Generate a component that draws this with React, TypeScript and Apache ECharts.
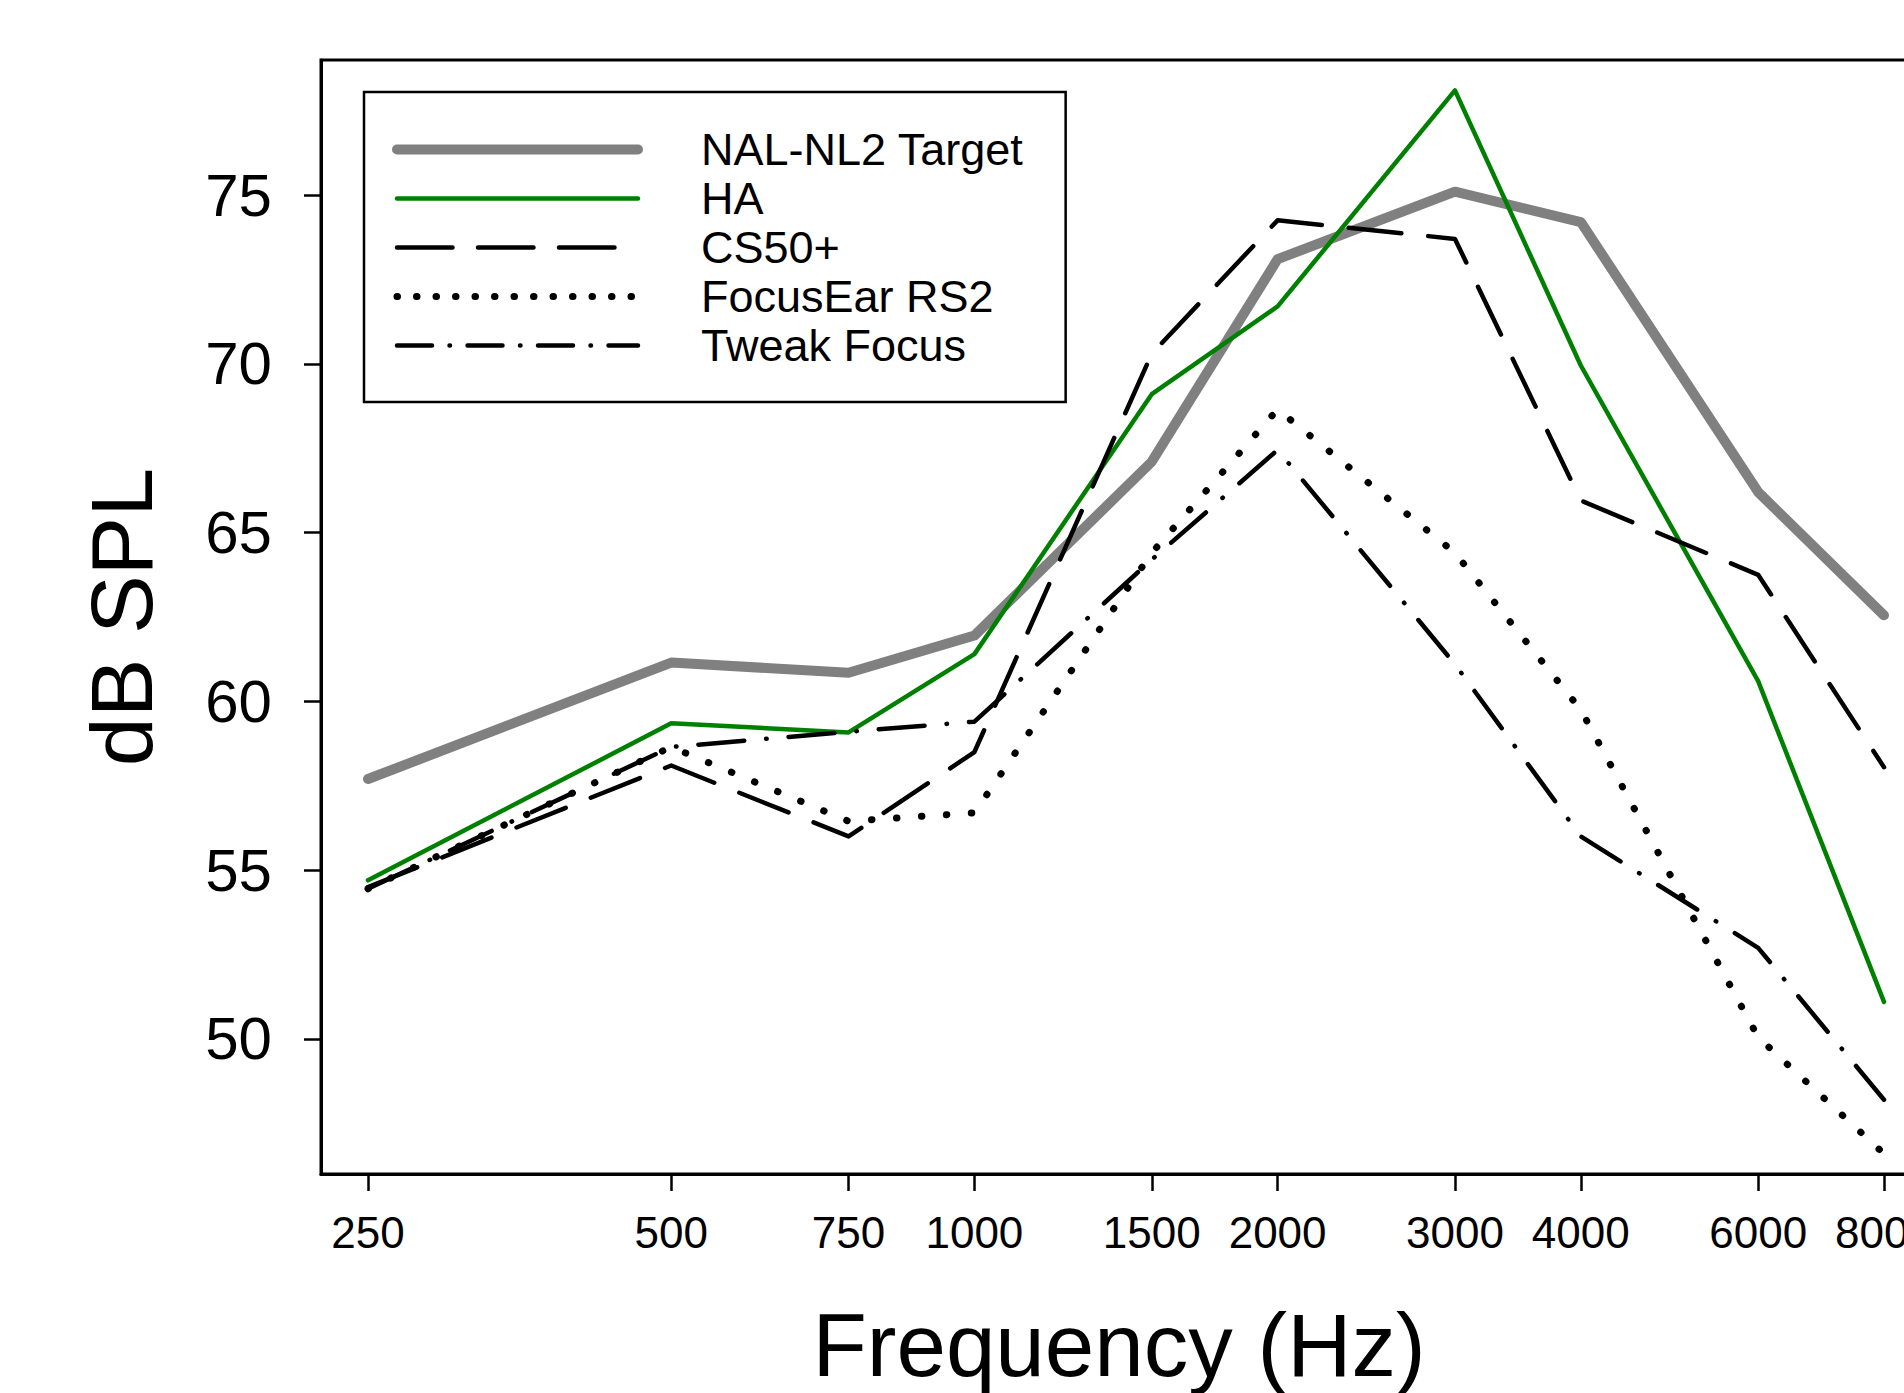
import React, { useEffect, useRef } from "react";
import * as echarts from "echarts";

const frequencies = [250, 500, 750, 1000, 1500, 2000, 3000, 4000, 6000, 8000];
const nalTarget = [57.7, 61.15, 60.85, 61.95, 67.1, 73.1, 75.1, 74.2, 66.2, 62.55];
const haValues = [54.7, 59.35, 59.08, 61.4, 69.1, 71.7, 78.1, 69.95, 60.6, 51.1];
const cs50Values = [54.5, 58.1, 56.0, 58.5, 70.3, 74.25, 73.7, 65.95, 63.75, 58.05];
const focusEarValues = [54.45, 58.65, 56.45, 56.7, 64.4, 68.65, 64.4, 59.75, 50.05, 46.6];
const tweakFocusValues = [54.45, 58.65, 59.1, 59.4, 64.2, 67.45, 61.1, 56.0, 52.7, 48.2];
const yTicks = [50, 55, 60, 65, 70, 75];
const seriesNames = ["NAL-NL2 Target", "HA", "CS50+", "FocusEar RS2", "Tweak Focus"];

const FONT = "'Liberation Sans', Arial, Helvetica, sans-serif";

export default function App() {
  const ref = useRef<HTMLDivElement>(null);

  useEffect(() => {
    if (!ref.current) return;
    const chart = echarts.init(ref.current, null, { renderer: "svg" });
    const toPts = (vals: number[]) => frequencies.map((f, i) => [Math.log2(f), vals[i]]);
    const pad = 0.155;
    const xMin = Math.log2(frequencies[0]) - pad;
    const xMax = Math.log2(frequencies[frequencies.length - 1]) + pad;
    const xTickVals = frequencies.map((f) => Math.log2(f));

    const mk = (name: string, vals: number[], color: string, width: number, type: any) => ({
      name,
      type: "line",
      data: toPts(vals),
      symbol: "none",
      silent: true,
      lineStyle: { color, width, type, cap: "round", join: "round" },
      itemStyle: { color },
      emphasis: { disabled: true },
    });

    chart.setOption({
      animation: false,
      backgroundColor: "#ffffff",
      textStyle: { fontFamily: FONT },
      grid: {
        show: true,
        left: 321,
        top: 60,
        right: -27,
        bottom: 219,
        borderColor: "#000",
        borderWidth: 3,
        backgroundColor: "rgba(0,0,0,0)",
        containLabel: false,
        outerBoundsMode: "none",
      },
      legend: {
        orient: "vertical",
        left: 364,
        top: 92,
        padding: [35, 42, 34, 28],
        itemWidth: 241,
        itemHeight: 44,
        itemGap: 4,
        borderColor: "#000",
        borderWidth: 2.5,
        backgroundColor: "#fff",
        selectedMode: false,
        itemStyle: { color: "rgba(0,0,0,0)", borderWidth: 0 },
        lineStyle: { width: "inherit" },
        textStyle: {
          fontSize: 45,
          fontFamily: FONT,
          color: "#000",
          lineHeight: 44,
          padding: [0, 0, 0, 58],
        },
        data: [
          { name: seriesNames[0] },
          { name: seriesNames[1] },
          { name: seriesNames[2], lineStyle: { type: [55.5, 25.5] } },
          { name: seriesNames[3], lineStyle: { type: [0.5, 19] } },
          { name: seriesNames[4], lineStyle: { type: [35, 17.5, 0.5, 17.5] } },
        ],
      },
      xAxis: {
        type: "value",
        min: xMin,
        max: xMax,
        name: "Frequency (Hz)",
        nameLocation: "middle",
        nameGap: 126,
        nameMoveOverlap: false,
        nameTextStyle: { fontSize: 89, fontFamily: FONT, color: "#000", padding: [0, 14, 0, 0] },
        axisLine: { show: true, lineStyle: { color: "#000", width: 3 } },
        axisTick: {
          show: true,
          inside: false,
          length: 17,
          lineStyle: { color: "#000", width: 2.5 },
          customValues: xTickVals,
        },
        axisLabel: {
          show: true,
          margin: 36,
          fontSize: 44,
          fontFamily: FONT,
          color: "#000",
          customValues: xTickVals,
          formatter: (v: number) => String(Math.round(Math.pow(2, v))),
        },
        splitLine: { show: false },
      },
      yAxis: {
        type: "value",
        min: 46,
        max: 79,
        name: "dB SPL",
        nameLocation: "middle",
        nameGap: 156,
        nameRotate: 90,
        nameMoveOverlap: false,
        nameTextStyle: { fontSize: 88, fontFamily: FONT, color: "#000" },
        axisLine: { show: true, lineStyle: { color: "#000", width: 3 } },
        axisTick: {
          show: true,
          inside: false,
          length: 17,
          lineStyle: { color: "#000", width: 2.5 },
          customValues: yTicks,
        },
        axisLabel: {
          show: true,
          margin: 49,
          fontSize: 60,
          fontFamily: FONT,
          color: "#000",
          customValues: yTicks,
        },
        splitLine: { show: false },
      },
      series: [
        mk(seriesNames[0], nalTarget, "#808080", 10, "solid"),
        mk(seriesNames[1], haValues, "#008000", 4.5, "solid"),
        mk(seriesNames[2], cs50Values, "#000000", 4.5, [53, 27]),
        mk(seriesNames[3], focusEarValues, "#000000", 7, [0.5, 24.5]),
        mk(seriesNames[4], tweakFocusValues, "#000000", 4.5, [46, 22, 0.5, 22]),
      ],
    });

    return () => chart.dispose();
  }, []);

  return (
    <div
      ref={ref}
      style={{ position: "fixed", left: 0, top: 0, width: 1904, height: 1393, background: "#fff" }}
    />
  );
}
